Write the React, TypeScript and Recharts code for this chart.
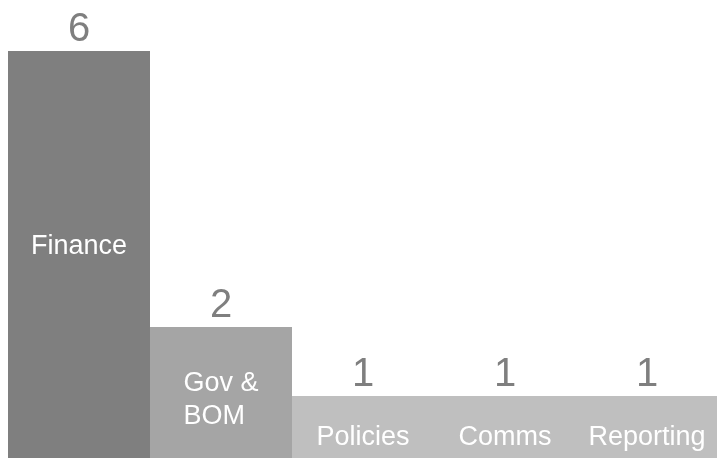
import React from 'react';
import { BarChart, Bar, XAxis, YAxis, Cell, LabelList } from 'recharts';

const categories = ['Finance', 'Gov & BOM', 'Policies', 'Comms', 'Reporting'];
const counts = [6, 2, 1, 1, 1];
const colors = ['#7f7f7f', '#a5a5a5', '#bfbfbf', '#bfbfbf', '#bfbfbf'];

const data = categories.map((name, i) => ({ name, value: counts[i] }));

const FONT = '"Liberation Sans", Arial, sans-serif';
const NAME_SIZE = 27;
const LINE_H = 33;

let ctx: CanvasRenderingContext2D | null = null;
const measure = (s: string) => {
  if (!ctx) {
    const c = document.createElement('canvas');
    ctx = c.getContext('2d');
  }
  if (!ctx) return s.length * NAME_SIZE * 0.55;
  ctx.font = `${NAME_SIZE}px ${FONT}`;
  return ctx.measureText(s).width;
};

const wrap = (s: string, maxW: number) => {
  const words = s.split(' ');
  const lines: string[] = [];
  let cur = '';
  words.forEach((w) => {
    const t = cur ? cur + ' ' + w : w;
    if (cur && measure(t) > maxW) {
      lines.push(cur);
      cur = w;
    } else {
      cur = t;
    }
  });
  if (cur) lines.push(cur);
  return lines;
};

const getBox = (props: any) => {
  const vb = props.viewBox || {};
  return {
    x: props.x ?? vb.x,
    y: props.y ?? vb.y,
    width: props.width ?? vb.width,
    height: props.height ?? vb.height,
  };
};

const ValueLabel = (props: any) => {
  const { x, y, width } = getBox(props);
  return (
    <text
      x={x + width / 2}
      y={y - 10}
      textAnchor="middle"
      fill="#7f7f7f"
      fontSize={40}
      fontFamily={FONT}
    >
      {props.value}
    </text>
  );
};

const NameLabel = (props: any) => {
  const { x, y, width, height } = getBox(props);
  const lines = wrap(String(props.value), 105);
  const cy = y + height * 0.445 + 9;
  const cap = NAME_SIZE * 0.716;
  const firstBase = cy + cap / 2 - ((lines.length - 1) * LINE_H) / 2;
  const maxW = Math.max(...lines.map(measure));
  const multi = lines.length > 1;
  const tx = multi ? x + width / 2 - maxW / 2 : x + width / 2;
  return (
    <text
      x={tx}
      y={firstBase}
      textAnchor={multi ? 'start' : 'middle'}
      fill="#ffffff"
      fontSize={NAME_SIZE}
      fontFamily={FONT}
    >
      {lines.map((l, i) => (
        <tspan key={i} x={tx} y={firstBase + i * LINE_H}>
          {l}
        </tspan>
      ))}
    </text>
  );
};

export default function App() {
  return (
    <div
      style={{
        position: 'fixed',
        left: 8,
        top: 0,
        width: 709,
        height: 458,
        overflow: 'hidden',
      }}
    >
      <BarChart
        width={710}
        height={465}
        data={data}
        margin={{ top: 51, right: 0, left: 0, bottom: 0 }}
        barCategoryGap={0}
        barGap={0}
      >
        <XAxis dataKey="name" hide />
        <YAxis hide domain={[0, 6]} />
        <Bar dataKey="value" isAnimationActive={false}>
          {data.map((d, i) => (
            <Cell key={d.name} fill={colors[i]} />
          ))}
          <LabelList dataKey="value" content={ValueLabel} />
          <LabelList dataKey="name" content={NameLabel} />
        </Bar>
      </BarChart>
    </div>
  );
}
